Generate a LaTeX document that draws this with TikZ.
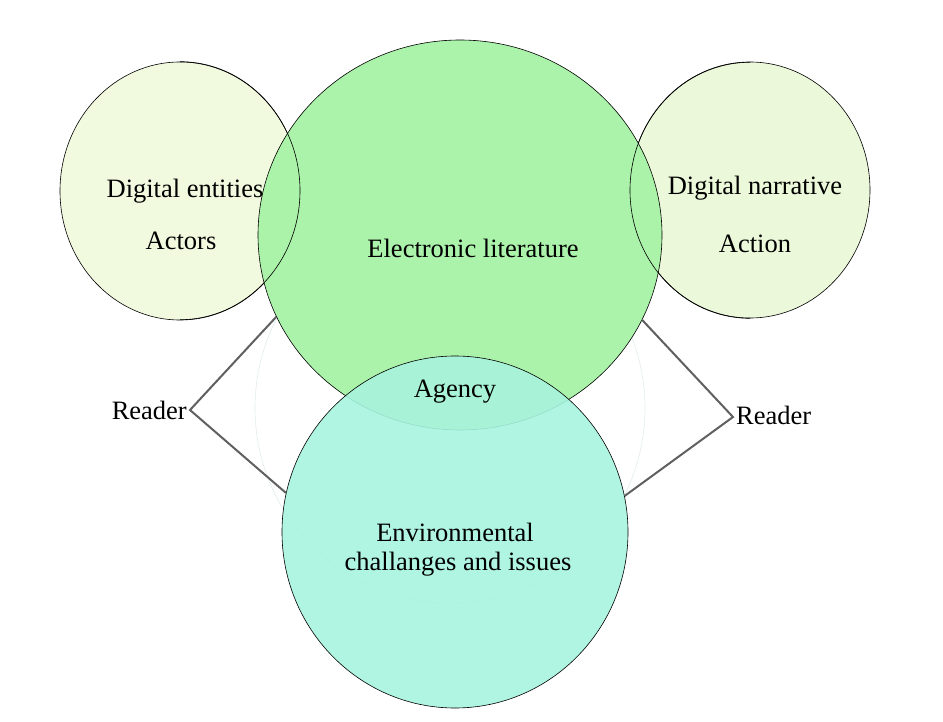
\documentclass[tikz,border=0pt]{standalone}
\usepackage{fontspec}
\setmainfont{Liberation Serif}
\usetikzlibrary{shapes.geometric}
\definecolor{leftfill}{HTML}{F1FADF}
\definecolor{rightfill}{HTML}{EBF8D9}
\definecolor{bigfill}{HTML}{A9F3A8}
\definecolor{botfill}{HTML}{A8F4DE}
\definecolor{faint}{HTML}{E3ECEE}
\definecolor{linkgray}{HTML}{606060}
\tikzset{
  blob/.style={ellipse, draw=black, line width=0.6pt, inner sep=0pt},
  lbl/.style={font=\fontsize{26.5}{30}\selectfont, inner sep=0pt, text=black},
  link/.style={draw=linkgray, line width=2pt}
}
\begin{document}
\begin{tikzpicture}[x=1pt,y=-1pt]
\useasboundingbox (0,0) rectangle (943,722);
\fill[white] (0,0) rectangle (943,722);
\node[blob, fill=leftfill, minimum width=240pt, minimum height=258pt] (left) at (180,191) {};
\node[blob, fill=rightfill, minimum width=240pt, minimum height=256pt] (right) at (750,190) {};
\node[ellipse, draw=faint, line width=0.6pt, minimum width=390pt, minimum height=390pt, inner sep=0pt] (ring) at (450,408) {};
\node[blob, fill=bigfill, fill opacity=0.97, minimum width=404pt, minimum height=390pt] (big) at (460,235) {};
\node[blob, fill=botfill, fill opacity=0.9, minimum width=346pt, minimum height=352pt] (bot) at (455,532) {};
\draw[black, line width=0.6pt] (left.north) arc[start angle=90, end angle=-90, x radius=120pt, y radius=129pt];
\draw[black, line width=0.6pt] (right.south) arc[start angle=270, end angle=90, x radius=120pt, y radius=128pt];
\node[lbl] (t1) at (185,191) {Digital entities};
\node[lbl] (t2) at (181,241) {Actors};
\node[lbl] (t3) at (473,248) {Electronic literature};
\node[lbl] (t4) at (755,188) {Digital narrative};
\node[lbl] (t5) at (755,244) {Action};
\node[lbl] (t6) at (455,392) {Agency};
\node[lbl] (t7) at (455,532) {Environmental};
\node[lbl] (t8) at (458,564) {challanges and issues};
\coordinate (lv) at (190,410);
\coordinate (rv) at (733,417);
\node[lbl, anchor=east] (lr) at (187,410) {Reader};
\node[lbl, anchor=west] (rr) at (736,415) {Reader};
\draw[link] (big.204) -- (lv) -- (bot.167);
\draw[link] (big.335) -- (rv) -- (bot.12);
\end{tikzpicture}
\end{document}
